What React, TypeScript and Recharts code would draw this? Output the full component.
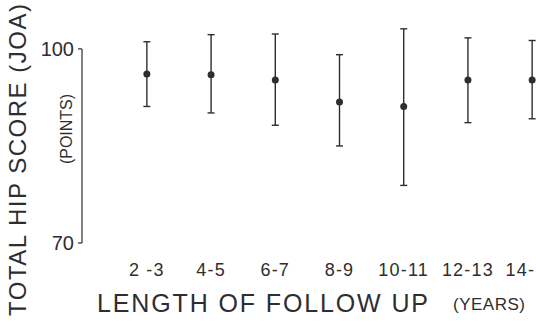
import { ScatterChart, Scatter, XAxis, YAxis, ErrorBar, ReferenceLine, Label } from 'recharts';

// follow-up periods (years); the last one is cut at the picture's edge
const categories = ['2 -3', '4-5', '6-7', '8-9', '10-11', '12-13', '14-'];
// JOA hip score: mean, upper and lower ends of the bars
const meanScore = [96.1, 96.0, 95.2, 91.8, 91.1, 95.2, 95.2];
const upperScore = [101.1, 102.2, 102.3, 99.1, 103.1, 101.7, 101.3];
const lowerScore = [91.1, 90.1, 88.2, 85.0, 78.9, 88.6, 89.2];
const yTicks = [70, 100];

const X_MIN = -1.01;
const X_MAX = 6.06;
const ink = '#2e2e2e';
const font = '"Liberation Sans", Arial, sans-serif';

const data = categories.map((c, i) => ({
  idx: i,
  score: meanScore[i],
  err: [meanScore[i] - lowerScore[i], upperScore[i] - meanScore[i]],
}));

const CategoryTick = ({ x, y, payload }: any) => {
  const isLast = payload.value === categories.length - 1;
  return (
    <text
      x={isLast ? x + 3 : x}
      y={y}
      dy={33}
      textAnchor={isLast ? 'end' : 'middle'}
      fill={ink}
      fontSize={18}
      letterSpacing={1.2}
      fontFamily={font}
    >
      {categories[payload.value]}
    </text>
  );
};

export default function App() {
  return (
    <div style={{ width: 536, height: 322, overflow: 'hidden', background: '#fff' }}>
      <style>{'body{margin:0}'}</style>
      <ScatterChart width={536} height={322} margin={{ top: 23, right: 0, bottom: 0, left: 0 }}>
        <XAxis
          type="number"
          dataKey="idx"
          domain={[X_MIN, X_MAX]}
          ticks={categories.map((_, i) => i)}
          interval={0}
          allowDataOverflow
          axisLine={false}
          tickLine={false}
          tickSize={0}
          tickMargin={0}
          height={79}
          tick={<CategoryTick />}
        >
          <Label
            content={() => (
              <g fill={ink} fontFamily={font}>
                <text x={97} y={312} fontSize={25} textLength={331} lengthAdjust="spacing">
                  LENGTH OF FOLLOW UP
                </text>
                <text x={453} y={310} fontSize={17} textLength={72} lengthAdjust="spacing">
                  (YEARS)
                </text>
              </g>
            )}
          />
        </XAxis>
        <YAxis
          type="number"
          dataKey="score"
          domain={[70, 104]}
          ticks={yTicks}
          width={82}
          axisLine={false}
          tickLine={{ stroke: ink, strokeWidth: 1.2 }}
          tickSize={4}
          tickMargin={4}
          tick={{ fill: ink, fontSize: 20, fontFamily: font }}
        >
          <Label
            content={() => (
              <g fill={ink} fontFamily={font}>
                <text
                  x={26}
                  y={160}
                  fontSize={24}
                  textAnchor="middle"
                  textLength={312}
                  lengthAdjust="spacing"
                  transform="rotate(-90, 26, 160)"
                >
                  TOTAL HIP SCORE (JOA)
                </text>
                <text
                  x={72}
                  y={129}
                  fontSize={16}
                  textAnchor="middle"
                  textLength={70}
                  lengthAdjust="spacing"
                  transform="rotate(-90, 72, 129)"
                >
                  (POINTS)
                </text>
              </g>
            )}
          />
        </YAxis>
        <ReferenceLine
          segment={[
            { x: X_MIN, y: 70 },
            { x: X_MIN, y: 100 },
          ]}
          stroke={ink}
          strokeWidth={1.2}
          ifOverflow="visible"
        />
        <Scatter
          data={data}
          fill={ink}
          isAnimationActive={false}
          shape={(p: any) => <circle cx={p.cx} cy={p.cy} r={3.5} fill={ink} />}
        >
          <ErrorBar dataKey="err" direction="y" width={3.5} stroke={ink} strokeWidth={1.4} />
        </Scatter>
      </ScatterChart>
    </div>
  );
}
